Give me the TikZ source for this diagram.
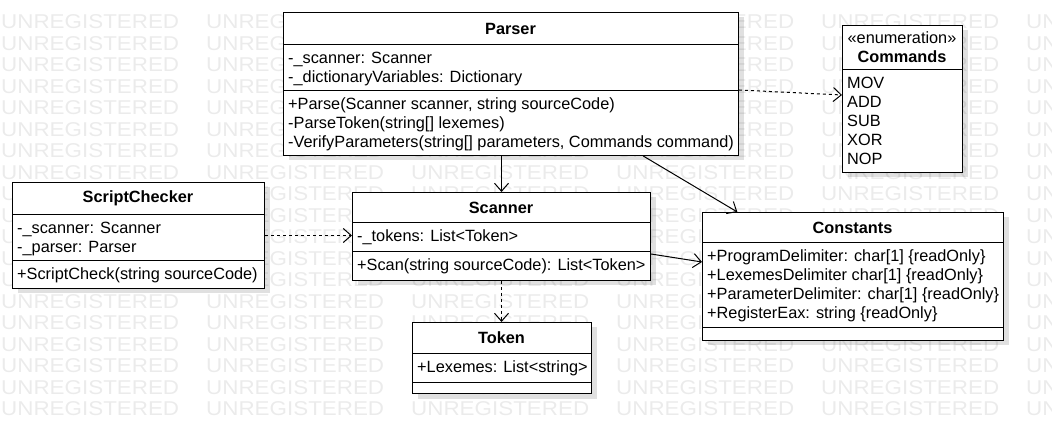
\documentclass[tikz,border=0pt]{standalone}
\usepackage{fontspec}
\setmainfont{Liberation Sans}
\usetikzlibrary{arrows.meta,calc,shadows}

\begin{document}
\begin{tikzpicture}[x=1pt,y=-1pt,
  classbox/.style={draw,fill=white,line width=1pt,inner sep=0pt,anchor=north west,
    general shadow={shadow xshift=5pt,shadow yshift=-5pt,fill=black,opacity=0.12}},
  classname/.style={inner sep=0pt,font=\fontsize{16.3}{19}\selectfont\bfseries},
  members/.style={anchor=north west,inner sep=0pt,align=left,font=\fontsize{16.3}{19}\selectfont},
  watermark/.style={anchor=west,inner sep=0pt,text=black!8,font=\fontsize{20}{20}\selectfont},
  assoc/.style={line width=1pt,-{Straight Barb[length=8pt,width=14pt,line width=1pt]}},
  dep/.style={assoc,dash pattern=on 3pt off 3pt}]

\useasboundingbox (0,0) rectangle (1052,443);

\def\boxline{1pt}

% watermark
\foreach \row in {0,...,18}
  \foreach \col in {0,...,5}
    \node[watermark] (wm\row-\col) at (\col*205+1, 22+\row*21.5) {\scalebox{1.12}[1]{UNREGISTERED}};

% Parser
\node[classbox,minimum width=455pt,minimum height=143pt] (parser) at (283,12) {};
\node[classname] (parserName) at (510.5,28.5) {Parser};
\draw[line width=\boxline] (parser.west |- 0,45) -- (parser.east |- 0,45);
\node[members] (parserFields) at (288,50) {\strut-\_scanner: Scanner\\-\_dictionaryVariables: Dictionary};
\draw[line width=\boxline] (parser.west |- 0,91) -- (parser.east |- 0,91);
\node[members] (parserMethods) at (288,96) {\strut+Parse(Scanner scanner, string sourceCode)\\-ParseToken(string[] lexemes)\\-VerifyParameters(string[] parameters, Commands command)};

% Commands
\node[classbox,minimum width=120pt,minimum height=147pt] (commands) at (842,25) {};
\node[classname,align=center] (commandsName) at (902,47.5) {{\mdseries «enumeration»}\\Commands};
\draw[line width=\boxline] (commands.west |- 0,70) -- (commands.east |- 0,70);
\node[members] (commandsValues) at (847,75) {\strut MOV\\ADD\\SUB\\XOR\\NOP};

% ScriptChecker
\node[classbox,minimum width=252pt,minimum height=106pt] (checker) at (12,182) {};
\node[classname] (checkerName) at (138,198.5) {ScriptChecker};
\draw[line width=\boxline] (checker.west |- 0,215) -- (checker.east |- 0,215);
\node[members] (checkerFields) at (17,220) {\strut-\_scanner: Scanner\\-\_parser: Parser};
\draw[line width=\boxline] (checker.west |- 0,261) -- (checker.east |- 0,261);
\node[members] (checkerMethods) at (17,266) {\strut+ScriptCheck(string sourceCode)};

% Scanner
\node[classbox,minimum width=298pt,minimum height=88pt] (scanner) at (352,192) {};
\node[classname] (scannerName) at (501,207.5) {Scanner};
\draw[line width=\boxline] (scanner.west |- 0,223) -- (scanner.east |- 0,223);
\node[members] (scannerFields) at (357,228) {\strut-\_tokens: List<Token>};
\draw[line width=\boxline] (scanner.west |- 0,252) -- (scanner.east |- 0,252);
\node[members] (scannerMethods) at (357,257) {\strut+Scan(string sourceCode): List<Token>};

% Constants
\node[classbox,minimum width=301pt,minimum height=128pt] (constants) at (702,212) {};
\node[classname] (constantsName) at (852.5,227.5) {Constants};
\draw[line width=\boxline] (constants.west |- 0,243) -- (constants.east |- 0,243);
\node[members] (constantsFields) at (707,248) {\strut+ProgramDelimiter: char[1] \{readOnly\}\\+LexemesDelimiter char[1] \{readOnly\}\\+ParameterDelimiter: char[1] \{readOnly\}\\+RegisterEax: string \{readOnly\}};
\draw[line width=\boxline] (constants.west |- 0,328) -- (constants.east |- 0,328);

% Token
\node[classbox,minimum width=179pt,minimum height=71pt] (token) at (412,322) {};
\node[classname] (tokenName) at (501.5,338) {Token};
\draw[line width=\boxline] (token.west |- 0,354) -- (token.east |- 0,354);
\node[members] (tokenFields) at (417,359) {\strut+Lexemes: List<string>};
\draw[line width=\boxline] (token.west |- 0,383) -- (token.east |- 0,383);

% relations
\draw[assoc] (scanner.north |- parser.south) -- (scanner.north);
\draw[assoc] ($(parser.south west)!0.79!(parser.south east)$) -- ($(constants.north west)!0.117!(constants.north east)$);
\draw[assoc] ($(scanner.south east)+(0,-27)$) -- ($(constants.north west)+(0,50)$);
\draw[dep] ($(parser.north east)+(0,78)$) -- ($(commands.north west)+(0,70)$);
\draw[dep] (checker.east) -- (checker.east -| scanner.west);
\draw[dep] (scanner.south) -- (scanner.south |- token.north);

\end{tikzpicture}
\end{document}
